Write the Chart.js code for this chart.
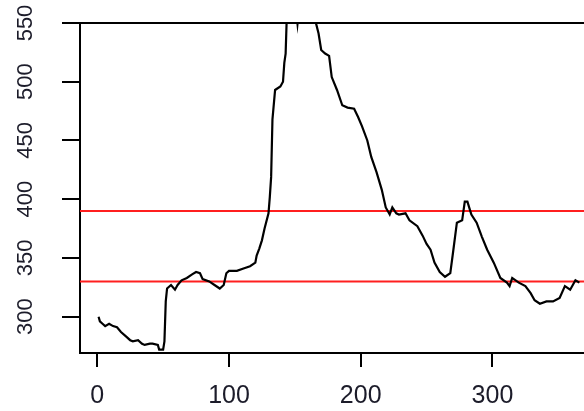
<!DOCTYPE html>
<html>
<head>
<meta charset="utf-8">
<script src="https://cdn.jsdelivr.net/npm/chart.js@4"></script>
<style>
  html, body { margin: 0; padding: 0; background: #fff; }
  #wrap { width: 584px; height: 411px; position: relative; }
</style>
</head>
<body>
<div id="wrap"><canvas id="levelChart"></canvas></div>
<script>
// day of year and measured level
const days = [1, 2, 4, 6, 9, 12, 15, 18, 22, 25, 27, 31, 34, 36, 40, 42, 46, 47, 50, 51,
  52, 53, 56, 59, 61, 64, 68, 72, 75, 78, 80, 85, 89, 93, 96, 98, 100, 106, 111, 116,
  120, 121, 123, 125, 127, 130, 131, 132, 133, 135, 139, 141, 142, 143, 144, 148, 151, 152, 153, 158,
  163, 166, 168, 170, 173, 176, 178, 182, 186, 190, 195, 198, 201, 205, 208, 212, 216, 219, 222, 224,
  227, 229, 234, 237, 243, 247, 250, 253, 256, 260, 264, 268, 270, 273, 277, 279, 281, 284, 288, 292,
  296, 301, 306, 311, 313, 315, 320, 325, 329, 332, 336, 341, 346, 351, 355, 359, 363, 366];
const levels = [300, 296, 294, 292, 294, 292, 291, 287, 283, 280, 279, 280, 277, 276, 277, 277, 276, 272, 272, 279,
  313, 324, 327, 323, 327, 331, 333, 336, 338, 337, 332, 330, 327, 324, 327, 337, 339, 339, 341, 343,
  346, 352, 358, 365, 375, 388, 402, 419, 468, 493, 496, 500, 516, 524, 560, 575, 560, 549.5, 560, 580,
  570, 550, 541, 527, 524, 522, 504, 493, 480, 478, 477, 470, 462, 450, 436, 423, 408, 393, 387, 393,
  388, 387, 388, 382, 377, 369, 362, 357, 346, 338, 334, 337, 354, 380, 382, 398, 398, 387, 380, 368,
  357, 346, 333, 329, 326, 333, 329, 326, 320, 314, 311, 313, 313, 316, 326, 323, 331, 329];

// horizontal reference levels
const refLevels = [390, 330];

const xTicks = [0, 100, 200, 300];
const yTicks = [300, 350, 400, 450, 500, 550];
const xMin = -13.1, xMax = 369.5;
const yMin = 269.1, yMax = 550;

const labelColor = "#1c1c2a";

const series = days.map((d, i) => ({ x: d, y: levels[i] }));

const refSets = refLevels.map((lv) => ({
  data: [{ x: xMin, y: lv }, { x: xMax, y: lv }],
  borderColor: "#ff1f1f",
  borderWidth: 2,
  pointRadius: 0,
  tension: 0,
}));

// rotated y labels plus the top frame line
const frame = {
  id: "frame",
  afterDraw(chart) {
    const { ctx, chartArea, scales } = chart;
    ctx.save();
    ctx.strokeStyle = "#000";
    ctx.lineWidth = 2;
    ctx.beginPath();
    ctx.moveTo(chartArea.left, chartArea.top);
    ctx.lineTo(chartArea.right, chartArea.top);
    ctx.stroke();

    ctx.fillStyle = labelColor;
    ctx.font = "22px 'Liberation Sans', Arial, sans-serif";
    ctx.textAlign = "center";
    ctx.textBaseline = "middle";
    scales.y.ticks.forEach((t) => {
      const py = scales.y.getPixelForValue(t.value);
      ctx.save();
      ctx.translate(26, py);
      ctx.rotate(-Math.PI / 2);
      ctx.fillText(String(t.value), 0, 0);
      ctx.restore();
    });
    ctx.restore();
  },
};

new Chart(document.getElementById("levelChart"), {
  type: "line",
  data: {
    datasets: [
      {
        data: series,
        borderColor: "#000",
        borderWidth: 2.2,
        pointRadius: 0,
        tension: 0,
      },
      ...refSets,
    ],
  },
  options: {
    responsive: true,
    maintainAspectRatio: false,
    animation: false,
    layout: { padding: { top: 23, left: 0, right: 0, bottom: 0 } },
    plugins: { legend: { display: false }, tooltip: { enabled: false } },
    scales: {
      x: {
        type: "linear",
        min: xMin,
        max: xMax,
        afterBuildTicks: (scale) => {
          scale.ticks = xTicks.map((v) => ({ value: v }));
        },
        afterFit: (scale) => {
          scale.height = 58;
        },
        grid: { drawOnChartArea: false, tickLength: 14, color: "#000", lineWidth: 2 },
        border: { color: "#000", width: 2 },
        ticks: {
          color: labelColor,
          padding: 14,
          maxRotation: 0,
          font: { size: 25, family: "'Liberation Sans', Arial, sans-serif" },
        },
      },
      y: {
        type: "linear",
        min: yMin,
        max: yMax,
        afterBuildTicks: (scale) => {
          scale.ticks = yTicks.map((v) => ({ value: v }));
        },
        afterFit: (scale) => {
          scale.width = 80;
        },
        grid: { drawOnChartArea: false, tickLength: 18, color: "#000", lineWidth: 2 },
        border: { color: "#000", width: 2 },
        ticks: { display: false },
      },
    },
  },
  plugins: [frame],
});
</script>
</body>
</html>
